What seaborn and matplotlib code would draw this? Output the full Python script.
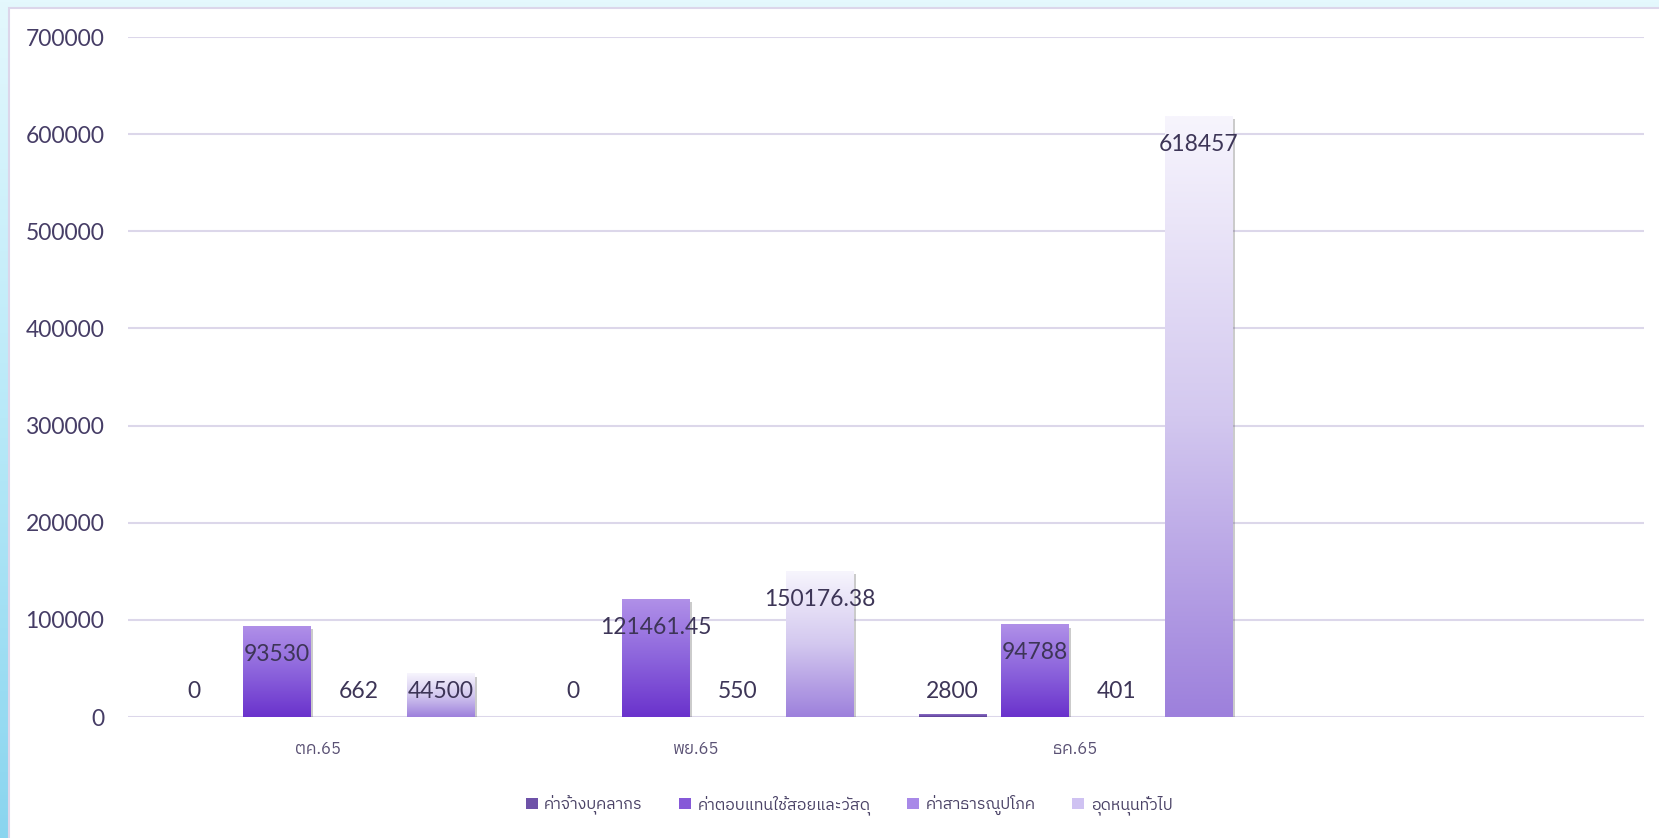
import matplotlib
matplotlib.use('Agg')
import matplotlib.pyplot as plt
import matplotlib.patheffects as pe
import seaborn as sns
import pandas as pd
import numpy as np
from matplotlib import font_manager
from matplotlib.ft2font import FT2Font
from matplotlib.colors import LinearSegmentedColormap
from matplotlib.patches import Rectangle, Patch

months = ['ตค.65', 'พย.65', 'ธค.65']
series = ['ค่าจ้างบุคลากร', 'ค่าตอบแทนใช้สอยและวัสดุ', 'ค่าสาธารณูปโภค', 'อุดหนุนทั่วไป']
staff = [0, 0, 2800]
materials = [93530, 121461.45, 94788]
utilities = [662, 550, 401]
subsidy = [44500, 150176.38, 618457]
yticks = [0, 100000, 200000, 300000, 400000, 500000, 600000, 700000]

# gradient stops per series (bottom -> top)
grad = [
    ['#5b3f93', '#7356b0', '#8b6cc4'],
    ['#6a32cc', '#8c64dc', '#b090e8'],
    ['#7d50d8', '#a688e6', '#d0c0f4'],
    ['#9d80dc', '#d3c8ef', '#f7f5fd'],
]
swatch = ['#6e52a8', '#8659d8', '#a889e8', '#cfc2f2']


def find_thai_font():
    fonts = sorted(font_manager.fontManager.ttflist, key=lambda f: 'Thai' not in f.name)
    for f in fonts:
        try:
            if 0x0E04 in FT2Font(f.fname).get_charmap():
                return f.name
        except Exception:
            pass
    return 'DejaVu Sans'


thai = find_thai_font()
sns.set_style('white')
plt.rcParams['font.family'] = ['Lato', thai, 'DejaVu Sans']

df = pd.DataFrame({
    'month': months * 4,
    'series': sum([[s] * 3 for s in series], []),
    'value': staff + materials + utilities + subsidy,
})

W, H = 1659, 838
fig = plt.figure(figsize=(W / 100, H / 100), dpi=100)

# background frame
bg = fig.add_axes([0, 0, 1, 1], zorder=-10)
bg.set_xlim(0, W)
bg.set_ylim(H, 0)
bg.axis('off')
bgmap = LinearSegmentedColormap.from_list('bg', ['#e4f8fd', '#b8e9f8', '#8ad5ef'])
bg.imshow(np.linspace(0, 1, 256).reshape(-1, 1), cmap=bgmap, aspect='auto',
          extent=[0, W, H, 0])
bg.add_patch(Rectangle((9, 8), W, H, facecolor='white', edgecolor='#dcd6ea', lw=1.5))

ax = fig.add_axes([128 / W, 1 - 717 / H, (1644 - 128) / W, (717 - 37) / H])
ax.patch.set_alpha(0)

sns.barplot(data=df, x='month', y='value', hue='series', order=months,
            hue_order=series, width=0.868, gap=0.185, legend=False, ax=ax)

ax.set_xlim(-0.5, 3.5)
ax.set_ylim(0, 700000)


def fmt(v):
    return str(int(v)) if float(v).is_integer() else f'{v:.2f}'


for i, cont in enumerate(ax.containers):
    cmap = LinearSegmentedColormap.from_list(f's{i}', grad[i])
    for bar, v in zip(cont.patches, [staff, materials, utilities, subsidy][i]):
        x, w, h = bar.get_x(), bar.get_width(), bar.get_height()
        if h < 1500:
            # too thin to show in the reference
            bar.set_visible(False)
        else:
            bar.set_facecolor('#ffffff')
            bar.set_edgecolor('none')
            bar.set_zorder(2)
            bar.set_path_effects([pe.SimplePatchShadow(offset=(2, -2), shadow_rgbFace='#555555', alpha=0.3),
                                  pe.Normal()])
            ax.imshow(np.linspace(0, 1, 256).reshape(-1, 1), cmap=cmap, origin='lower',
                      aspect='auto', extent=[x, x + w, 0, h], zorder=2.5)
        ly = max(v - 28900, 26000)
        ax.text(x + w / 2, ly, fmt(v), ha='center', va='center', fontsize=16.5,
                color='#3d3557', zorder=5)

ax.set_xlim(-0.5, 3.5)
ax.set_ylim(0, 700000)
ax.set_yticks(yticks)
ax.set_yticklabels([str(t) for t in yticks], fontsize=16.5, color='#463d66')
ax.set_xticks(range(len(months)))
ax.set_xticklabels(months, fontsize=12, color='#5a5174', family=[thai, 'DejaVu Sans'])
ax.tick_params(axis='y', length=0, pad=17)
ax.tick_params(axis='x', length=0, pad=17)
ax.set_xlabel('')
ax.set_ylabel('')
ax.grid(axis='y', color='#dcd7ea', lw=1.5, zorder=0)
ax.set_axisbelow(True)
for s in ax.spines.values():
    s.set_visible(False)

handles = [Patch(facecolor=c, edgecolor='none') for c in swatch]
fig.legend(handles, series, loc='center', bbox_to_anchor=(849 / W, 1 - 805 / H), ncol=4,
           frameon=False, handlelength=0.75, handleheight=0.75, handletextpad=0.4,
           columnspacing=2.3, prop={'family': [thai, 'DejaVu Sans'], 'size': 11.5},
           labelcolor='#4a4266')

fig.savefig('out.png', dpi=100)
